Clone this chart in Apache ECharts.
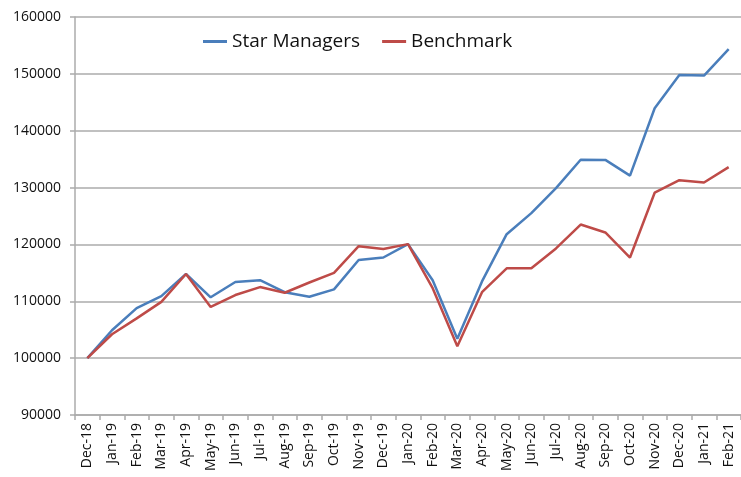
<!DOCTYPE html>
<html>
<head>
<meta charset="utf-8">
<script src="https://cdn.jsdelivr.net/npm/echarts@6/dist/echarts.min.js"></script>
<style>
html,body{margin:0;padding:0;background:#fff;}
#chart{width:741px;height:477px;}
</style>
</head>
<body>
<div id="chart"></div>
<script>
// months on the x axis
let months = ['Dec-18','Jan-19','Feb-19','Mar-19','Apr-19','May-19','Jun-19','Jul-19','Aug-19','Sep-19',
    'Oct-19','Nov-19','Dec-19','Jan-20','Feb-20','Mar-20','Apr-20','May-20','Jun-20','Jul-20',
    'Aug-20','Sep-20','Oct-20','Nov-20','Dec-20','Jan-21','Feb-21'];

let starManagers = [100000,104900,108800,110900,114800,110700,113400,113700,111600,110800,
    112100,117250,117700,120050,113700,103400,113500,121800,125500,129900,
    134900,134870,132100,143960,149800,149700,154340];

let benchmark = [100000,104200,107000,109900,114800,109000,111100,112500,111500,113300,
    115000,119700,119200,120050,112300,102100,111600,115800,115800,119300,
    123500,122100,117700,129100,131300,130900,133600];

let gridGray = '#ababab';

let chart = echarts.init(document.getElementById('chart'));
chart.setOption({
    animation: false,
    textStyle: {fontFamily: 'Open Sans'},
    legend: {
        top: 27,
        left: 198,
        itemWidth: 24,
        itemHeight: 3,
        itemGap: 22,
        icon: 'rect',
        textStyle: {fontSize: 19, color: '#111', fontFamily: 'Open Sans'},
        data: ['Star Managers', 'Benchmark']
    },
    grid: {left: 75, right: -5, top: 17, bottom: 62},
    xAxis: {
        type: 'category',
        data: months,
        boundaryGap: true,
        axisLine: {lineStyle: {color: gridGray, width: 1.5}},
        axisTick: {show: true, length: 5, lineStyle: {color: gridGray, width: 1.5}},
        axisLabel: {rotate: 90, color: '#111', fontSize: 14, margin: 8, interval: 0}
    },
    yAxis: {
        type: 'value',
        min: 90000,
        max: 160000,
        interval: 10000,
        axisLine: {show: true, lineStyle: {color: gridGray, width: 1.5}},
        axisTick: {show: true, length: 5, lineStyle: {color: gridGray, width: 1.5}},
        axisLabel: {color: '#111', fontSize: 14, margin: 14, formatter: function (v) { return String(v); }},
        splitLine: {lineStyle: {color: gridGray, width: 1.5}}
    },
    series: [
        {
            name: 'Star Managers',
            type: 'line',
            data: starManagers,
            symbol: 'none',
            itemStyle: {color: '#4a7ebb'},
            lineStyle: {color: '#4a7ebb', width: 2.5}
        },
        {
            name: 'Benchmark',
            type: 'line',
            data: benchmark,
            symbol: 'none',
            itemStyle: {color: '#be4b48'},
            lineStyle: {color: '#be4b48', width: 2.5}
        }
    ]
});
</script>
</body>
</html>
